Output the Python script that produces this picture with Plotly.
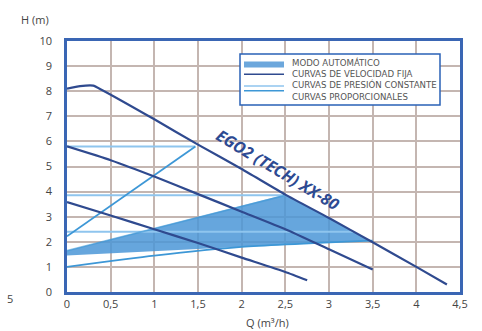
import plotly.graph_objects as go

# ---- data ----
q_ticks = [0, 0.5, 1, 1.5, 2, 2.5, 3, 3.5, 4, 4.5]
q_tick_labels = ["0", "0,5", "1", "1,5", "2", "2,5", "3", "3,5", "4", "4,5"]
h_ticks = [0, 1, 2, 3, 4, 5, 6, 7, 8, 9, 10]

# fixed speed curves
q_speed_max = [0, 0.15, 0.3, 0.4, 1.0, 1.5, 2.0, 2.5, 3.0, 3.5, 4.0, 4.35]
h_speed_max = [8.1, 8.2, 8.22, 8.05, 6.88, 5.87, 4.9, 3.88, 2.95, 1.98, 1.0, 0.3]
q_speed_mid = [0, 0.5, 1.0, 1.5, 2.0, 2.5, 3.0, 3.5]
h_speed_mid = [5.8, 5.25, 4.6, 3.9, 3.2, 2.5, 1.7, 0.9]
q_speed_low = [0, 0.5, 1.0, 1.5, 2.0, 2.5, 2.75]
h_speed_low = [3.58, 3.05, 2.5, 1.95, 1.37, 0.8, 0.47]

# constant pressure curves
cp_h = [5.8, 3.85, 2.4]
cp_q_end = [1.47, 2.5, 3.28]

# proportional curves
q_prop_1 = [0, 1.47]
h_prop_1 = [2.22, 5.8]
q_prop_2 = [0, 2.5]
h_prop_2 = [1.65, 3.85]
q_prop_3 = [0, 1.0, 2.0, 3.5]
h_prop_3 = [1.0, 1.45, 1.8, 2.05]

# automatic mode area
q_auto_top = [0, 2.5]
h_auto_top = [1.65, 3.85]
q_auto_right = [2.5, 3.0, 3.47]
h_auto_right = [3.88, 2.95, 2.05]
q_auto_bottom = [3.47, 0]
h_auto_bottom = [2.05, 1.45]

legend_labels = ["MODO AUTOMÁTICO", "CURVAS DE VELOCIDAD FIJA",
                 "CURVAS DE PRESIÓN CONSTANTE", "CURVAS PROPORCIONALES"]

NAVY = "#2f4a8f"
LIGHT = "#8fc5ee"
MED = "#3d97d6"
SHADE = "rgba(75,150,215,0.85)"
GRID = "#c4b6b1"
FRAME = "#3a66b4"

fig = go.Figure()

# automatic mode shaded area
fig.add_trace(go.Scatter(
    x=q_auto_top + q_auto_right + q_auto_bottom,
    y=h_auto_top + h_auto_right + h_auto_bottom,
    fill="toself", fillcolor=SHADE, line=dict(width=0), mode="lines",
    hoverinfo="skip", showlegend=False))

# constant pressure lines
for h, qe in zip(cp_h, cp_q_end):
    fig.add_trace(go.Scatter(x=[0, qe], y=[h, h], mode="lines",
                             line=dict(color=LIGHT, width=2), showlegend=False))

# proportional lines
for qq, hh, c in [(q_prop_1, h_prop_1, MED), (q_prop_2, h_prop_2, "rgba(61,151,214,0.6)"),
                  (q_prop_3, h_prop_3, MED)]:
    fig.add_trace(go.Scatter(x=qq, y=hh, mode="lines",
                             line=dict(color=c, width=1.8, shape="spline", smoothing=0.6),
                             showlegend=False))

# fixed speed curves
for qq, hh in [(q_speed_max, h_speed_max), (q_speed_mid, h_speed_mid), (q_speed_low, h_speed_low)]:
    fig.add_trace(go.Scatter(x=qq, y=hh, mode="lines",
                             line=dict(color=NAVY, width=2.2, shape="spline", smoothing=0.5),
                             showlegend=False))

# curve label
fig.add_annotation(x=2.42, y=4.88, text="<b><i>EGO2 (TECH) XX-80</i></b>",
                   showarrow=False, textangle=31,
                   font=dict(family="Open Sans, Arial", size=16, color="#2d4a92"))

# manual legend box
fig.add_shape(type="rect", xref="paper", yref="paper",
              x0=(240 - 67) / 393, x1=(440 - 67) / 393,
              y0=(292 - 105) / 251, y1=(292 - 54) / 251,
              fillcolor="white", line=dict(color="#2a62b6", width=1.5))
# swatch
fig.add_shape(type="rect", xref="paper", yref="paper",
              x0=(244 - 67) / 393, x1=(284 - 67) / 393,
              y0=(292 - 67.5) / 251, y1=(292 - 61.5) / 251,
              fillcolor="#6ca7dc", line=dict(width=0))
for ypx, col in [(74.3, NAVY), (86, LIGHT), (90.7, MED)]:
    fig.add_shape(type="line", xref="paper", yref="paper",
                  x0=(244 - 67) / 393, x1=(284 - 67) / 393,
                  y0=(292 - ypx) / 251, y1=(292 - ypx) / 251,
                  line=dict(color=col, width=1.6))
fig.add_annotation(xref="paper", yref="paper", x=(290 - 67) / 393,
                   y=(292 - 79) / 251, xanchor="left", yanchor="middle", align="left",
                   text="<br>".join(legend_labels), showarrow=False,
                   font=dict(family="DejaVu Sans, Open Sans", size=8.6, color="#555555"))

# axis titles
fig.add_annotation(xref="paper", yref="paper", x=(35 - 67) / 393, y=(292 - 19) / 251,
                   text="H (m)", showarrow=False, xanchor="center", yanchor="middle",
                   font=dict(family="Open Sans, Arial", size=11, color="#444444"))
fig.add_annotation(xref="paper", yref="paper", x=(267 - 67) / 393, y=(292 - 322) / 251,
                   text="Q (m³/h)", showarrow=False, xanchor="center", yanchor="middle",
                   font=dict(family="Open Sans, Arial", size=11, color="#444444"))
fig.add_annotation(xref="paper", yref="paper", x=(10 - 67) / 393, y=(292 - 298) / 251,
                   text="5", showarrow=False, xanchor="center", yanchor="middle",
                   font=dict(family="Open Sans, Arial", size=11, color="#444444"))

fig.update_xaxes(range=[0, 4.5], tickvals=q_ticks, ticktext=q_tick_labels,
                 showgrid=True, gridcolor=GRID, gridwidth=1.5, zeroline=False,
                 showline=True, mirror=True, linecolor=FRAME, linewidth=2.5,
                 ticks="", tickfont=dict(family="Open Sans, Arial", size=11, color="#444444"))
fig.update_yaxes(range=[0, 10], tickvals=h_ticks,
                 showgrid=True, gridcolor=GRID, gridwidth=1.5, zeroline=False,
                 showline=True, mirror=True, linecolor=FRAME, linewidth=2.5,
                 ticks="", ticklabelstandoff=10,
                 tickfont=dict(family="Open Sans, Arial", size=11, color="#444444"))

fig.update_layout(width=482, height=331, margin=dict(l=67, r=22, t=41, b=39),
                  plot_bgcolor="white", paper_bgcolor="white", showlegend=False)

fig.write_html("out.html", config={"displayModeBar": False},
               post_script="document.body.style.margin='0';document.body.style.overflow='hidden';")
